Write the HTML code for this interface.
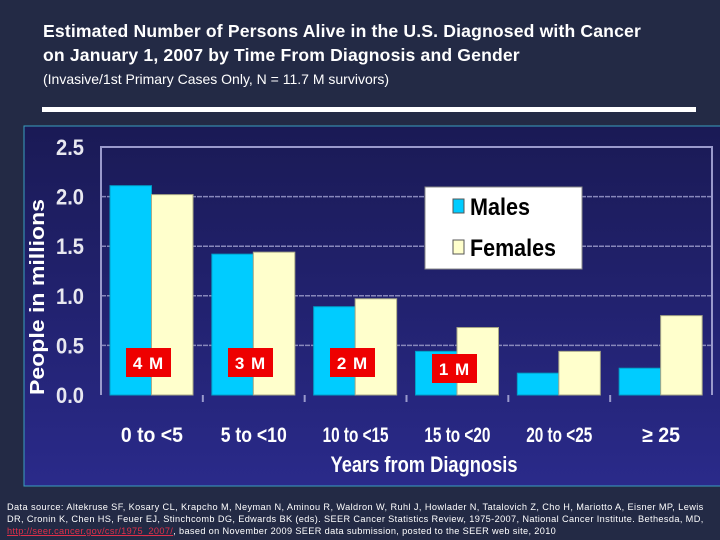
<!DOCTYPE html>
<html><head><meta charset="utf-8"><style>
body{margin:0;width:720px;height:540px;overflow:hidden;background:#232a45;font-family:"Liberation Sans",sans-serif;}
#t{position:absolute;left:43px;top:19px;color:#fff;font-weight:bold;font-size:17.6px;line-height:24px;letter-spacing:0.15px;}
#s{position:absolute;left:43px;top:71px;color:#fff;font-size:14px;}
#rule{position:absolute;left:42px;top:107px;width:654px;height:5px;background:#fff;}
#foot{position:absolute;left:7px;top:501px;color:#fff;font-size:9.2px;line-height:12px;width:712px;white-space:nowrap}
#foot div{height:12px}
#foot a{color:#e0304a;text-decoration:underline}
</style></head><body>
<div id="t">Estimated Number of Persons Alive in the U.S. Diagnosed with Cancer<br>on January 1, 2007 by Time From Diagnosis and Gender</div>
<div id="s">(Invasive/1st Primary Cases Only, N = 11.7 M survivors)</div>
<div id="rule"></div>
<svg id="c" width="720" height="540" style="position:absolute;left:0;top:0">
<defs><linearGradient id="bg" x1="0" y1="0" x2="0" y2="1"><stop offset="0" stop-color="#1a1a55"/><stop offset="1" stop-color="#2a2a8a"/></linearGradient></defs>
<rect x="24" y="126" width="700" height="360" fill="url(#bg)" stroke="#3aa0c0" stroke-width="1"/>
<g id="g"></g>
</svg>
<div id="foot">
<div style="letter-spacing:0.4px">Data source: Altekruse SF, Kosary CL, Krapcho M, Neyman N, Aminou R, Waldron W, Ruhl J, Howlader N, Tatalovich Z, Cho H, Mariotto A, Eisner MP, Lewis</div>
<div style="letter-spacing:0.37px">DR, Cronin K, Chen HS, Feuer EJ, Stinchcomb DG, Edwards BK (eds). SEER Cancer Statistics Review, 1975-2007, National Cancer Institute. Bethesda, MD,</div>
<div style="letter-spacing:0.35px"><a>http://seer.cancer.gov/csr/1975_2007/</a>, based on November 2009 SEER data submission, posted to the SEER web site, 2010</div>
</div>
<script>
const categories=["0 to <5","5 to <10","10 to <15","15 to <20","20 to <25","≥ 25"];
const males=[2.11,1.42,0.89,0.44,0.22,0.27];
const females=[2.02,1.44,0.97,0.68,0.44,0.80];
const groupLabels=["4 M","3 M","2 M","1 M"];
const yTicks=[0,0.5,1.0,1.5,2.0,2.5];
const tickLabels=["0.0","0.5","1.0","1.5","2.0","2.5"];
const NS="http://www.w3.org/2000/svg",g=document.getElementById('g');
const L=101,R=712,T=147,B=395,ymax=2.5;
const y=v=>B-(B-T)*v/ymax;
const slot=(R-L)/categories.length;
const x=i=>L+slot*i;
function mk(tag,a,txt){const e=document.createElementNS(NS,tag);for(const k in a)e.setAttribute(k,a[k]);if(txt!=null)e.textContent=txt;g.appendChild(e);return e;}
yTicks.forEach((v,i)=>{
 if(v>0&&v<ymax){const l=mk('line',{x1:L,x2:R,y1:y(v),y2:y(v),stroke:'#8888bb','stroke-width':1.5,'stroke-dasharray':'5,1'});
 }
 const t=mk('text',{x:84,y:y(v)+8,'text-anchor':'end',fill:'#e8e8f0','font-size':22,'font-weight':'bold','textLength':28,'lengthAdjust':'spacingAndGlyphs'},tickLabels[i]);
 
});
const fr=mk('path',{d:`M${L},${B}V${T}H${R}V${B}`,fill:'none',stroke:'#9a9acc','stroke-width':2});

const bw=41.5,off=9;
categories.forEach((c,i)=>{
 const m=mk('rect',{x:x(i)+off,y:y(males[i]),width:bw,height:B-y(males[i]),fill:'#00ccff',stroke:'#00a0c8'});
 
 const f=mk('rect',{x:x(i)+off+bw,y:y(females[i]),width:bw,height:B-y(females[i]),fill:'#ffffcc',stroke:'#aaaa88'});
 
 const t=mk('text',{x:x(i)+slot/2,y:442,'text-anchor':'middle',fill:'#fff','font-size':21,'font-weight':'bold','textLength':c.length>7?66:(c.length>6?62:50),'lengthAdjust':'spacingAndGlyphs'},c);
 if(i==5)t.setAttribute('textLength',38);
 
 if(i>0){const tk=mk('line',{x1:x(i),x2:x(i),y1:B,y2:B+7,stroke:'#9a9acc','stroke-width':2});}
});
const lx=[126,228,330,432],ly=[348,348,348,354];
groupLabels.forEach((s,i)=>{
 const r=mk('rect',{x:lx[i],y:ly[i],width:45,height:29,fill:'#ee0000'});
 
 const t=mk('text',{x:lx[i]+22.5,y:ly[i]+21,'text-anchor':'middle',fill:'#fff','font-size':17,'font-weight':'bold','letter-spacing':1},s);
 
});
const yt=mk('text',{transform:'translate(44,297) rotate(-90)','text-anchor':'middle',fill:'#fff','font-size':20,'font-weight':'bold','textLength':196,'lengthAdjust':'spacingAndGlyphs'},'People in millions');

const xt=mk('text',{x:424,y:472,'text-anchor':'middle',fill:'#fff','font-size':22,'font-weight':'bold','textLength':187,'lengthAdjust':'spacingAndGlyphs'},'Years from Diagnosis');

const lg=mk('rect',{x:425,y:187,width:157,height:82,fill:'#fff',stroke:'#888'});

[['Males','#00ccff',199],['Females','#ffffcc',240]].forEach(([n,col,yy])=>{
 const sw=mk('rect',{x:453,y:yy,width:11,height:14,fill:col,stroke:'#555'});
 
 const t=mk('text',{x:470,y:yy+16,fill:'#000','font-size':24,'font-weight':'bold','textLength':n=='Males'?60:86,'lengthAdjust':'spacingAndGlyphs'},n);
 
});
</script>
</body></html>
